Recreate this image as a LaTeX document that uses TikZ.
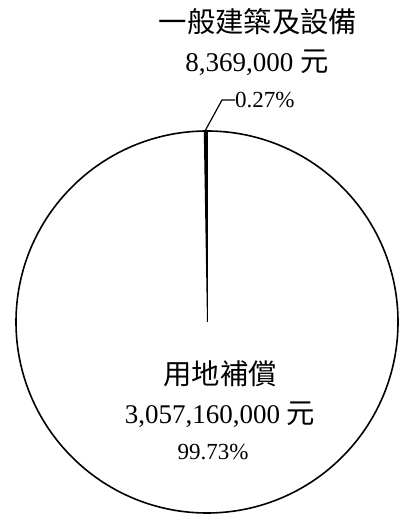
\documentclass[tikz,border=0pt]{standalone}
\usepackage{fontspec}
\setmainfont{Liberation Serif}
\newfontfamily\cjk[Scale=1.05]{Noto Sans CJK TC}
\usepackage{tikz}

\tikzset{
	big/.style={inner sep=0pt, font=\fontsize{27}{32}\selectfont},
	small/.style={inner sep=0pt, font=\fontsize{23}{28}\selectfont}
}

\begin{document}
\begin{tikzpicture}[x=1pt,y=1pt]
	\useasboundingbox (0,0) rectangle (399,514);
	\coordinate (c) at (207,192);
	
	% pie
	\fill (c) -- ++(90:191) arc[start angle=90, end angle=90.97, radius=191] -- cycle;
	\draw[line width=1.6pt] (c) circle[radius=191];
	\draw[line width=0.8pt] (c) -- ++(90:191);
	
	% labels
	\node[big] (a1) at (258,492) {\cjk 一般建築及設備};
	\node[big] (a2) at (257,451) {8,369,000 \cjk 元};
	\node[small, anchor=west] (a3) at (235,414) {0.27\%};
	\node[big] (b1) at (220,140) {\cjk 用地補償};
	\node[big] (b2) at (220,99) {3,057,160,000 \cjk 元};
	\node[small] (b3) at (213,62) {99.73\%};
	
	\coordinate (w) at (205,383);
	\coordinate (k) at (222,414);
	\draw[line width=1.2pt] (w) -- (k) -- (a3.west);
\end{tikzpicture}
\end{document}
